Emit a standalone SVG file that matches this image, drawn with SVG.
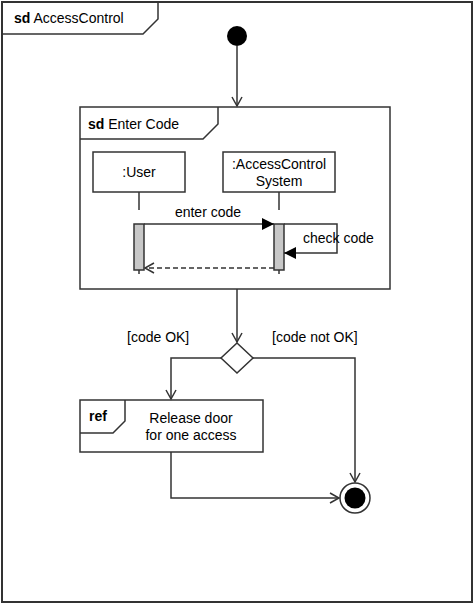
<svg xmlns="http://www.w3.org/2000/svg" width="474" height="604" viewBox="0 0 474 604">
<defs>
<style>
text{font-family:"Liberation Sans",Arial,sans-serif;font-size:14px;fill:#000}
.b{font-weight:bold}
.ln{fill:none;stroke:#333;stroke-width:1.5}
.box{fill:#fff;stroke:#333;stroke-width:1.5}
.bar{fill:#c8c8c8;stroke:#333;stroke-width:1.5}
</style>
<marker id="open" markerWidth="12" markerHeight="12" refX="10" refY="6" orient="auto" markerUnits="userSpaceOnUse">
<path d="M1,1 L10,6 L1,11" fill="none" stroke="#333" stroke-width="1.5"/>
</marker>
<marker id="fill" markerWidth="14" markerHeight="12" refX="12" refY="6" orient="auto" markerUnits="userSpaceOnUse">
<path d="M0,0 L12,6 L0,12 Z" fill="#000"/>
</marker>
</defs>
<g id="frame-main">
<rect x="2" y="2" width="470" height="600" fill="#fff" stroke="#333" stroke-width="2"/>
<path class="ln" d="M2,34 H143 L158,19 V2"/>
<text x="14" y="23"><tspan class="b">sd</tspan> AccessControl</text>
</g>
<g id="initial">
<circle cx="237" cy="36" r="10" fill="#000"/>
</g>
<g id="enter-code">
<rect class="box" x="80" y="107" width="310" height="182"/>
<path class="ln" d="M80,139 H203 L218,124 V107"/>
<text x="88" y="129"><tspan class="b">sd</tspan> Enter Code</text>
</g>
<g id="user">
<rect class="box" x="93" y="152" width="92" height="40"/>
<text x="139" y="177" text-anchor="middle">:User</text>
</g>
<g id="acs">
<rect class="box" x="223" y="152" width="112" height="40"/>
<text x="279" y="169" text-anchor="middle">:AccessControl</text>
<text x="279" y="186" text-anchor="middle">System</text>
</g>
<g id="decision">
<path class="box" d="M237,343 L253,358 L237,373 L221,358 Z"/>
</g>
<g id="ref">
<rect class="box" x="80" y="400" width="183" height="52"/>
<path class="ln" d="M80,433 H113 L125,421 V400"/>
<text x="89" y="421" class="b">ref</text>
<text x="191" y="423" text-anchor="middle">Release door</text>
<text x="191" y="440" text-anchor="middle">for one access</text>
</g>
<g id="final">
<circle cx="355" cy="498" r="15" fill="#fff" stroke="#333" stroke-width="1.5"/>
<circle cx="355" cy="498" r="10.5" fill="#000"/>
</g>
<g id="connectors">
<line class="ln" x1="237" y1="46" x2="237" y2="106" marker-end="url(#open)"/>
<line class="ln" x1="139" y1="192" x2="139" y2="210"/>
<line class="ln" x1="279" y1="192" x2="279" y2="210"/>
<line class="ln" x1="139" y1="270" x2="139" y2="274"/>
<line class="ln" x1="279" y1="270" x2="279" y2="274"/>
<rect class="bar" x="134" y="224" width="10" height="46"/>
<rect class="bar" x="274" y="224" width="10" height="46"/>
<line class="ln" x1="144" y1="224" x2="274" y2="224" marker-end="url(#fill)"/>
<text x="208" y="217" text-anchor="middle">enter code</text>
<path class="ln" d="M284,224 H337 V253 H284" marker-end="url(#fill)"/>
<text x="303" y="243">check code</text>
<line class="ln" x1="274" y1="268" x2="145" y2="268" stroke-dasharray="5,3" marker-end="url(#open)"/>
<line class="ln" x1="237" y1="289" x2="237" y2="342" marker-end="url(#open)"/>
<text x="127" y="342">[code OK]</text>
<text x="272" y="342">[code not OK]</text>
<path class="ln" d="M221,358 H171 V399" marker-end="url(#open)"/>
<path class="ln" d="M253,358 H355 V482" marker-end="url(#open)"/>
<path class="ln" d="M171,452 V498 H339" marker-end="url(#open)"/>
</g>
</svg>
